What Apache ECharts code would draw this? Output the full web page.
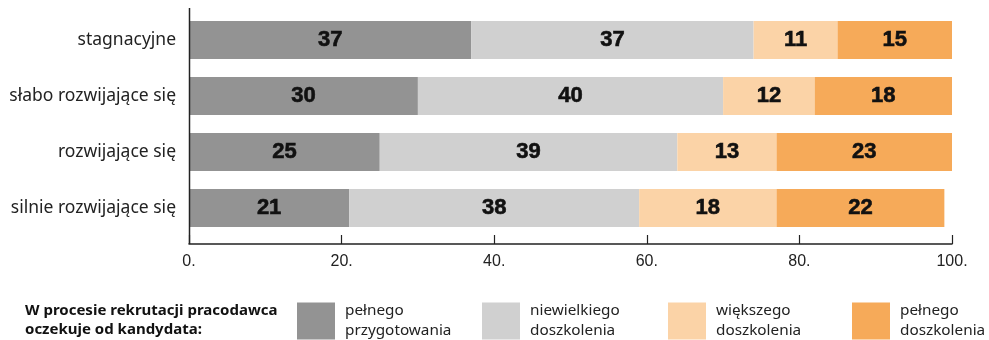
<!DOCTYPE html>
<html>
<head>
<meta charset="utf-8">
<script src="https://cdn.jsdelivr.net/npm/echarts@6/dist/echarts.min.js"></script>
<style>
  html, body { margin: 0; padding: 0; background: #fff; }
  #chart { width: 989px; height: 340px; }
</style>
</head>
<body>
<div id="chart"></div>
<script>
// Categories (top to bottom) and shares per category
const categories = ['stagnacyjne', 'słabo rozwijające się', 'rozwijające się', 'silnie rozwijające się'];
const seriesNames = ['pełnego przygotowania', 'niewielkiego doszkolenia', 'większego doszkolenia', 'pełnego doszkolenia'];
const fullPreparation = [37, 30, 25, 21];
const minorTraining = [37, 40, 39, 38];
const largerTraining = [11, 12, 13, 18];
const fullTraining = [15, 18, 23, 22];
const xTicks = [0, 20, 40, 60, 80, 100];
const legendTitle = 'W procesie rekrutacji pracodawca\noczekuje od kandydata:';

const colors = ['#939393', '#d0d0d0', '#fbd3a7', '#f6aa59'];
const values = [fullPreparation, minorTraining, largerTraining, fullTraining];
const legendLeft = [297, 482, 668, 852];

const chart = echarts.init(document.getElementById('chart'), null, { renderer: 'canvas' });

const series = seriesNames.map((name, i) => ({
  name: name,
  type: 'bar',
  stack: 'total',
  barWidth: 38,
  data: values[i],
  itemStyle: { color: colors[i] },
  label: {
    show: true,
    position: 'inside',
    color: '#111',
    fontFamily: 'Liberation Sans, Arial, sans-serif',
    fontWeight: 'bold',
    fontSize: 22,
    textBorderColor: '#111',
    textBorderWidth: 0.6
  }
}));

const legends = seriesNames.map((name, i) => ({
  data: [name],
  left: legendLeft[i],
  top: 301,
  padding: 0,
  itemWidth: 38,
  itemHeight: 37,
  icon: 'rect',
  selectedMode: false,
  formatter: n => n.replace(' ', '\n'),
  textStyle: {
    fontFamily: 'Noto Sans, sans-serif',
    fontSize: 15.3,
    lineHeight: 20,
    color: '#222',
    padding: [0, 0, 0, 5]
  }
}));

chart.setOption({
  animation: false,
  title: {
    text: legendTitle,
    left: 25,
    top: 301,
    padding: 0,
    textStyle: {
      fontFamily: 'Noto Sans, sans-serif',
      fontSize: 15,
      fontWeight: 'bold',
      lineHeight: 19,
      color: '#111'
    }
  },
  legend: legends,
  grid: { left: 189, right: 37, top: 12, height: 224, containLabel: false },
  xAxis: {
    type: 'value',
    min: 0,
    max: 100,
    interval: 20,
    offset: 8,
    splitLine: { show: false },
    axisLine: { show: true, lineStyle: { color: '#222', width: 1.5 } },
    axisTick: { show: true, inside: true, length: 9, lineStyle: { color: '#222', width: 1.2 } },
    axisLabel: {
      margin: 10,
      fontFamily: 'Liberation Sans Narrow, Arial Narrow, sans-serif',
      fontSize: 16,
      color: '#222',
      formatter: v => (xTicks.includes(v) ? v + '.' : '')
    }
  },
  yAxis: {
    type: 'category',
    inverse: true,
    data: categories,
    axisLine: { show: false },
    axisTick: { show: false },
    axisLabel: {
      margin: 13,
      fontFamily: 'Noto Sans, sans-serif',
      fontSize: 17.5,
      color: '#222'
    }
  },
  graphic: [{
    type: 'line',
    shape: { x1: 189.5, y1: 8, x2: 189.5, y2: 244 },
    style: { stroke: '#222', lineWidth: 1.5 },
    z: 10
  }],
  series: series
});
</script>
</body>
</html>
